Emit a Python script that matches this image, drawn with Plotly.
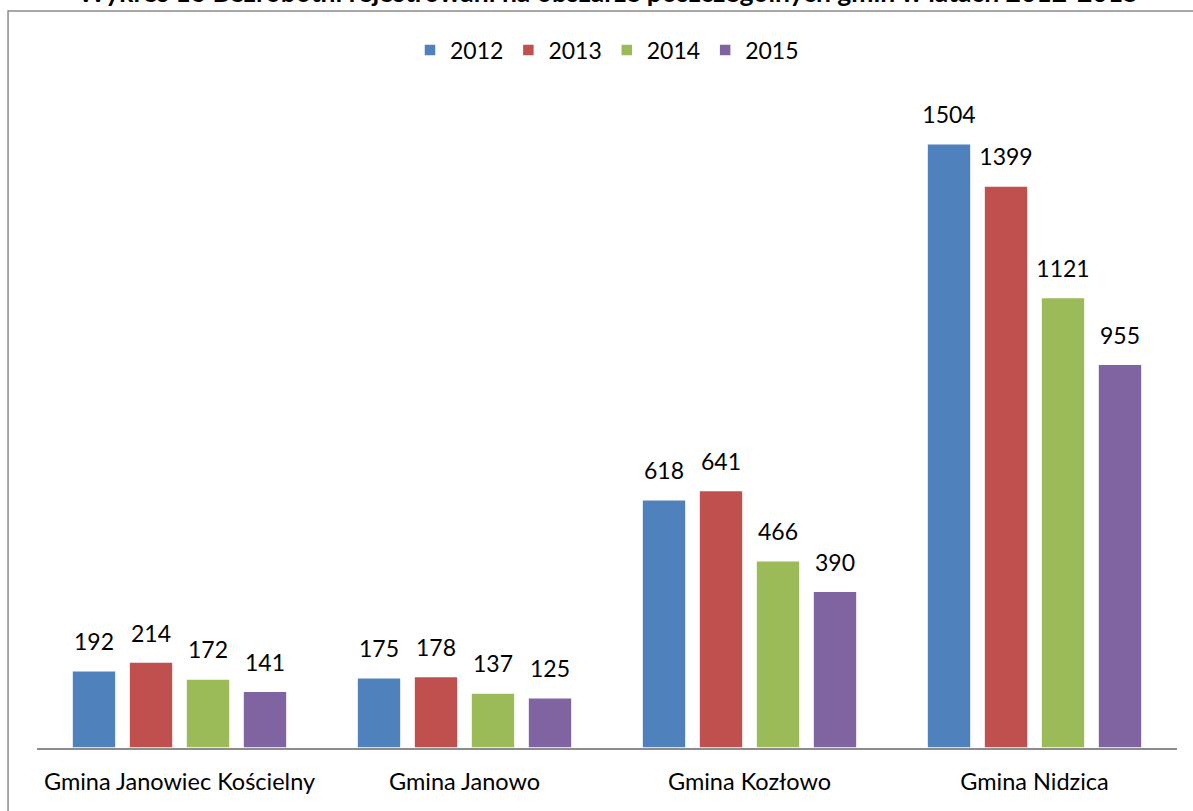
import plotly.graph_objects as go

categories = ["Gmina Janowiec Kościelny", "Gmina Janowo", "Gmina Kozłowo", "Gmina Nidzica"]
years = ["2012", "2013", "2014", "2015"]
values = {
    "2012": [192, 175, 618, 1504],
    "2013": [214, 178, 641, 1399],
    "2014": [172, 137, 466, 1121],
    "2015": [141, 125, 390, 955],
}
colors = {"2012": "#4F81BD", "2013": "#C0504D", "2014": "#9BBB59", "2015": "#8064A2"}
title_text = "Wykres 16 Bezrobotni rejestrowani na obszarze poszczególnych gmin w latach 2012-2015"

FONT = "Lato"

fig = go.Figure()
for y in years:
    fig.add_trace(go.Bar(
        name=y, x=categories, y=values[y], offsetgroup=y,
        marker=dict(color=colors[y], line=dict(color="white", width=1.5)),
    ))
for y in years:
    fig.add_trace(go.Scatter(
        x=categories, y=values[y], offsetgroup=y, mode="markers+text",
        text=[str(v) for v in values[y]], textposition="top center",
        textfont=dict(family=FONT, size=23, color="black"),
        marker=dict(size=22, opacity=0), showlegend=False, hoverinfo="skip",
        cliponaxis=False,
    ))

fig.update_layout(
    width=1193, height=811,
    margin=dict(l=37, r=16, t=65, b=63),
    paper_bgcolor="white", plot_bgcolor="white",
    barmode="group", bargap=0.2, bargroupgap=0.23,
    scattermode="group", scattergap=0.2,
    showlegend=True,
    legend=dict(orientation="h", x=0.5, xanchor="center", y=1.022, yanchor="middle",
                font=dict(family=FONT, size=23, color="black"), itemwidth=30,
                traceorder="normal"),
    font=dict(family=FONT, size=23, color="black"),
    xaxis=dict(showline=True, linecolor="#8C8C8C", linewidth=1.5, ticks="",
               tickfont=dict(family=FONT, size=23.5, color="black"), showgrid=False,
               ticklabelstandoff=12),
    yaxis=dict(range=[0, 1700], visible=False, showgrid=False),
)

fig.add_shape(type="rect", xref="paper", yref="paper",
              x0=-0.0254, x1=1.2, y0=-0.3, y1=1.079,
              line=dict(color="#8C8C8C", width=1.5), fillcolor="rgba(0,0,0,0)", layer="below")

fig.add_annotation(text="<b>" + title_text + "</b>", xref="paper", yref="paper", x=0.501, y=1.0805,
                   xanchor="center", yanchor="bottom", showarrow=False,
                   font=dict(family=FONT, size=26.5, color="black"))

fig.write_html("out.html", config={"displayModeBar": False},
               post_script="document.body.style.margin='0';")
